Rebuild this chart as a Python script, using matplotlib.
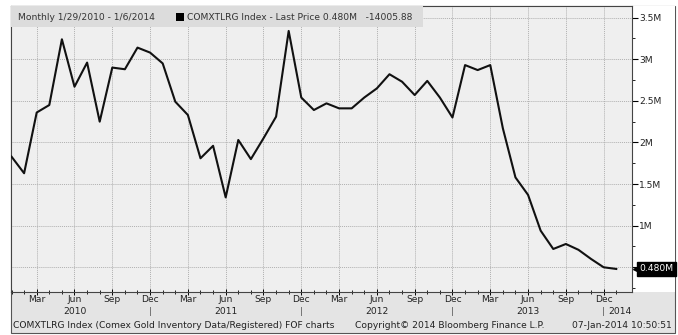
import numpy as np
import matplotlib
matplotlib.use('Agg')
import matplotlib.pyplot as plt
from matplotlib.patches import Rectangle

# monthly registered gold inventory, millions of oz (Jan 2010 .. Jan 2014)
values = [1.83, 1.63, 2.36, 2.45, 3.24, 2.67, 2.96, 2.25, 2.90, 2.88, 3.14, 3.08,
          2.95, 2.49, 2.33, 1.81, 1.96, 1.34, 2.03, 1.80, 2.05, 2.31, 3.34, 2.54,
          2.39, 2.47, 2.41, 2.41, 2.54, 2.65, 2.82, 2.73, 2.57, 2.74, 2.54, 2.30,
          2.93, 2.87, 2.93, 2.17, 1.58, 1.37, 0.94, 0.72, 0.78, 0.71, 0.60, 0.50,
          0.48]
month_names = ['Jan', 'Feb', 'Mar', 'Apr', 'May', 'Jun',
               'Jul', 'Aug', 'Sep', 'Oct', 'Nov', 'Dec']
years = ['2010', '2011', '2012', '2013', '2014']
y_ticks = [0.5, 1, 1.5, 2, 2.5, 3, 3.5]
y_labels = ['', '1M', '1.5M', '2M', '2.5M', '3M', '3.5M']
last_label = '0.480M'

x = np.arange(len(values))
font = 'DejaVu Sans'
fs = 6.6

fig = plt.figure(figsize=(6.78, 3.35), dpi=100)
fig.patch.set_facecolor('white')

# outer frame with grey footer area, white strip behind the price labels
fig.patches.append(Rectangle((11/678, 2/335), (675-11)/678, (329-2)/335,
                             transform=fig.transFigure, facecolor='#e4e4e4',
                             edgecolor='#555555', lw=0.8, zorder=-2))
fig.patches.append(Rectangle((632/678, 43/335), (675-632)/678, (329-43)/335,
                             transform=fig.transFigure, facecolor='white',
                             edgecolor='none', zorder=-1))

ax = fig.add_axes([11/678, 43/335, (632-11)/678, (329-43)/335])
ax.set_facecolor('#efefef')
ax.plot(x, values, color='#111111', lw=1.5, zorder=3)

ax.set_xlim(-0.04, 49.25)
ax.set_ylim(0.203, 3.64)

# right y axis
ax.yaxis.tick_right()
ax.set_yticks(y_ticks)
ax.set_yticklabels(y_labels, fontsize=fs, family=font, color='#222222')
ax.set_yticks(np.arange(0.25, 3.6, 0.5), minor=True)
ax.tick_params(axis='y', which='major', direction='out', length=4, width=0.8, pad=1)
ax.tick_params(axis='y', which='minor', direction='out', length=2, width=0.6)

# bottom x axis: a tick per month, labels at Mar/Jun/Sep/Dec
major = [i for i in x if i % 3 == 2]
ax.set_xticks(major)
ax.set_xticklabels([month_names[i % 12] for i in major], fontsize=fs, family=font,
                   color='#222222')
ax.set_xticks(x, minor=True)
ax.tick_params(axis='x', which='major', direction='inout', length=5, width=0.7, pad=0)
ax.tick_params(axis='x', which='minor', direction='inout', length=3, width=0.6)

ax.grid(True, which='major', color='#b0b0b0', ls=(0, (1, 1)), lw=0.7)
for s in ax.spines.values():
    s.set_color('#444444')
    s.set_linewidth(0.8)

# year labels and separators
trans = ax.get_xaxis_transform()
yy = -0.068
for k, yr in enumerate(years[:-1]):
    ax.text(12 * k + 5, yy, yr, transform=trans, ha='center', va='center',
            fontsize=fs, family=font, color='#222222', clip_on=False)
for k in range(len(years) - 1):
    ax.text(12 * k + 11, yy, '|', transform=trans, ha='center', va='center',
            fontsize=fs, family=font, color='#555555', clip_on=False)
ax.text(12 * 4 - 0.6, yy, years[-1], transform=trans, ha='left', va='center',
        fontsize=fs, family=font, color='#222222', clip_on=False)

# last value tag
ax.text(1.012, values[-1], last_label, transform=ax.get_yaxis_transform(),
        ha='left', va='center', fontsize=fs, family=font, color='white',
        bbox=dict(boxstyle='square,pad=0.25', facecolor='black', edgecolor='black'),
        clip_on=False, zorder=5)
ax.plot([1.006], [values[-1]], marker='<', color='black', ms=5,
        transform=ax.get_yaxis_transform(), clip_on=False, zorder=5)

# header strip
ax.add_patch(Rectangle((0, 1 - 21/286), (423-11)/621, 21/286, transform=ax.transAxes,
                       facecolor='#dcdcdc', edgecolor='none', zorder=4))
ax.text(7/621, 1 - 11/286, 'Monthly 1/29/2010 - 1/6/2014', transform=ax.transAxes,
        ha='left', va='center', fontsize=fs, family=font, color='#333333', zorder=5)
ax.add_patch(Rectangle((165/621, 1 - 15/286), 8/621, 8/286, transform=ax.transAxes,
                       facecolor='black', edgecolor='none', zorder=5))
ax.text(176/621, 1 - 11/286, 'COMXTLRG Index - Last Price 0.480M   -14005.88',
        transform=ax.transAxes, ha='left', va='center', fontsize=fs, family=font,
        color='#333333', zorder=5)

# footer
fig.text(13/678, 10/335, 'COMXTLRG Index (Comex Gold Inventory Data/Registered) FOF charts',
         ha='left', va='center', fontsize=fs, family=font, color='#222222')
fig.text(450/678, 10/335, 'Copyright\u00a9 2014 Bloomberg Finance L.P.',
         ha='center', va='center', fontsize=fs, family=font, color='#222222')
fig.text(672/678, 10/335, '07-Jan-2014 10:50:51',
         ha='right', va='center', fontsize=fs, family=font, color='#222222')

fig.savefig('out.png', dpi=100)
